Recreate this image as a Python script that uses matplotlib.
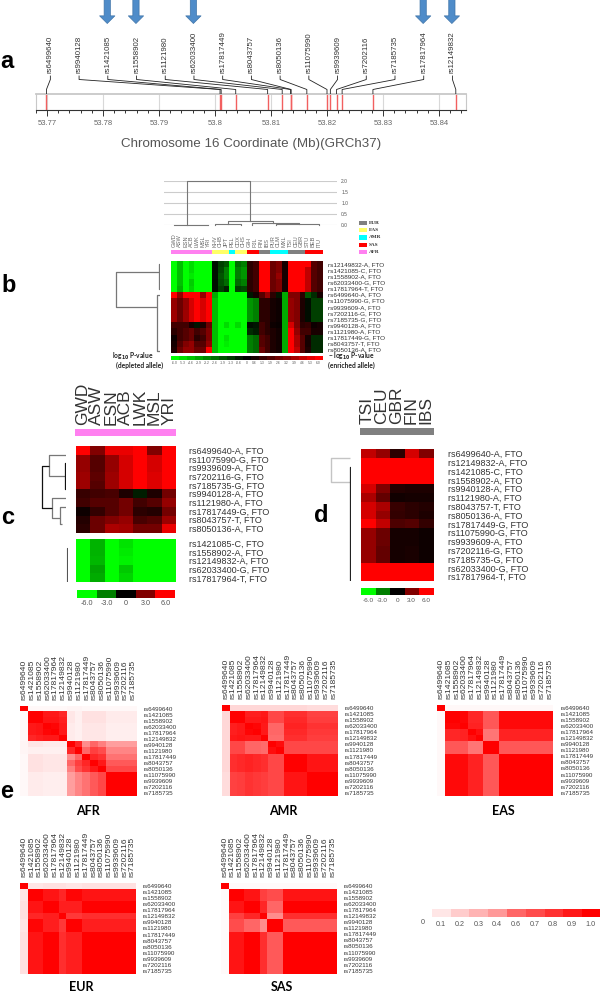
import numpy as np
import matplotlib
matplotlib.use('Agg')
import matplotlib.pyplot as plt
from matplotlib.colors import LinearSegmentedColormap, ListedColormap

plt.rcParams['font.family'] = ['Liberation Sans', 'DejaVu Sans']
plt.rcParams['mathtext.default'] = 'regular'

W, H = 600, 993

# panel a
snp_names = ['rs6499640', 'rs9940128', 'rs1421085', 'rs1558902', 'rs1121980',
             'rs62033400', 'rs17817449', 'rs8043757', 'rs8050136', 'rs11075990',
             'rs9939609', 'rs7202116', 'rs7185735', 'rs17817964', 'rs12149832']
snp_pos = [53.7699, 53.8009, 53.8011, 53.8037, 53.8094, 53.8120, 53.8135, 53.8136,
           53.8164, 53.8200, 53.8206, 53.8217, 53.8227, 53.8282, 53.8430]
arrow_snps = ['rs1421085', 'rs1558902', 'rs62033400', 'rs17817964', 'rs12149832']

# panel b
b_cols = ['GWD', 'ASW', 'ESN', 'ACB', 'LWK', 'MSL', 'YRI', 'KHV', 'CHB', 'JPT', 'PEL', 'CDX', 'CHS',
          'GIH', 'PJL', 'FIN', 'IBS', 'PUR', 'CLM', 'MXL', 'TSI', 'CEU', 'GBR', 'STU', 'BEB', 'ITU']
b_regions = [4, 4, 4, 4, 4, 4, 4, 1, 1, 1, 2, 1, 1, 3, 3, 0, 0, 2, 2, 2, 0, 0, 0, 3, 3, 3]
region_names = ['EUR', 'EAS', 'AMR', 'SAS', 'AFR']
region_colors = ['#808080', '#ffff66', '#00ffff', '#ff0000', '#ff80f0']
b_rows = ['rs12149832-A, FTO', 'rs1421085-C, FTO', 'rs1558902-A, FTO', 'rs62033400-G, FTO',
          'rs17817964-T, FTO', 'rs6499640-A, FTO', 'rs11075990-G, FTO', 'rs9939609-A, FTO',
          'rs7202116-G, FTO', 'rs7185735-G, FTO', 'rs9940128-A, FTO', 'rs1121980-A, FTO',
          'rs17817449-G, FTO', 'rs8043757-T, FTO', 'rs8050136-A, FTO']
b_values = [
    [-6, -4.5, -6, -5.2, -6, -6, -6, -.4, -1.5, -2, -6, -2.5, -3, 1, 1.5, 6, 6, 2.5, 3, .5, 6, 6, 6, 6, 2, 1.5],
    [-6, -4.5, -6, -5.2, -6, -6, -6, -.4, -1.7, -3, -6, -3, -3.5, 1, 1.5, 6, 6, 2.5, 3, .5, 6, 6, 6, 4.5, 2, 1.5],
    [-6, -4.5, -6, -5.5, -6, -6, -6, -.4, -2, -3, -6, -3, -3.5, 1, 1.5, 6, 6, 2.5, 3.5, .5, 6, 6, 6, 4.5, 2, 1.5],
    [-6, -4.5, -6, -4.8, -6, -6, -6, -.3, -1.8, -2.5, -6, -2.5, -3, 1, 1.5, 6, 6, 2.5, 3, .5, 6, 6, 6, 4.5, 2, 1.5],
    [-6, -4.2, -6, -5, -6, -6, -6, -.3, -1.5, -.8, -6, -1.5, -1.7, 1, 1.5, 6, 6, 2.5, 3, .5, 6, 6, 6, 4.5, 2, 1.5],
    [6, 3.5, 6, 6, 6, 3.5, 6, -4, -6, -6, -6, -6, -6, -.5, .5, 2, 3.5, 1, -.5, -4, 3, 3, 1, -2, -1, .5],
    [3.5, 2.5, 3.5, 5, 6, 5, 6, -4.5, -6, -6, -6, -6, -6, -3.5, -3, 1, 1, .5, .3, -4, 3.5, 3, .7, -.3, -1.5, -1.5],
    [3.5, 2.5, 3.5, 5, 6, 5, 6, -4.5, -6, -6, -6, -6, -6, -3.5, -3, 1, 1, .5, .3, -4, 3.5, 3, .7, -.3, -1.5, -1.5],
    [3.7, 2.5, 3.7, 5, 6, 5.2, 6, -4.5, -6, -6, -6, -6, -6, -3.5, -3, 1, 1, .5, .3, -4, 3.5, 3, .7, -.3, -1.5, -1.5],
    [3.7, 2.5, 3.7, 5, 6, 5.2, 6, -4.5, -6, -6, -6, -6, -6, -3.5, -3, 1, 1, .5, .3, -4, 3.5, 3, .7, -.3, -1.5, -1.5],
    [1.5, 1.5, 1.5, .5, -.5, .7, 2.5, -4.5, -6, -5.2, -6, -5.2, -6, -.3, -.5, 1.5, 1, .3, .2, -4, 5, 3, 1, 1.2, .3, .5],
    [1, 1.5, 2, 2.5, 1.5, 2, 3, -4.5, -6, -6, -6, -6, -6, -1, -.7, 1.5, 1, .7, .4, -4, 6, 3.5, 1.5, 1.5, .6, .6],
    [.3, 1.5, 2, 2.5, 1, 1.5, 3, -4.5, -6, -5.3, -6, -6, -6, -3, -2.5, 2, 1.5, .7, .4, -4, 6, 4, 2, .5, -1, -1],
    [.5, 2, 3, 3.5, 2, 2, 3.5, -4.5, -6, -5.6, -6, -6, -6, -3, -2.5, 2, 1.5, .7, .4, -4, 6, 4, 2, .5, -1, -1],
    [.7, 2.5, 3.5, 3.5, 2.5, 2.5, 6, -4.5, -6, -6, -6, -6, -6, -3, -2.5, 2.5, 1.5, .7, .4, -4, 6, 4.5, 2, .7, -1, -1],
]
b_scale = [-6.0, -5.3, -4.6, -3.9, -3.2, -2.6, -1.9, -1.3, -0.6, 0, 0.6, 1.3, 1.9, 2.6, 3.2, 3.9, 4.6, 5.3, 6.0]
b_heights = [0.0, 0.5, 1.0, 1.5, 2.0]

# panel c
c_cols = ['GWD', 'ASW', 'ESN', 'ACB', 'LWK', 'MSL', 'YRI']
c_rows_top = ['rs6499640-A, FTO', 'rs11075990-G, FTO', 'rs9939609-A, FTO', 'rs7202116-G, FTO',
              'rs7185735-G, FTO', 'rs9940128-A, FTO', 'rs1121980-A, FTO', 'rs17817449-G, FTO',
              'rs8043757-T, FTO', 'rs8050136-A, FTO']
c_values_top = [
    [6, 3, 5.5, 5.5, 6, 3, 6],
    [3.5, 2, 3.5, 5, 6, 5, 6],
    [3.5, 2, 3.5, 5, 6, 5, 6],
    [3.7, 2.2, 3.7, 5, 6, 5.2, 6],
    [3.7, 2, 3.7, 5, 6, 5.2, 6],
    [1.3, 1.5, 1.7, .7, -.7, .7, 2.7],
    [1.5, 2, 2, 2.7, 1.5, 2, 3.5],
    [.3, 1.2, 2, 2.7, 1, .8, 2.7],
    [.8, 2.5, 3, 3.5, 1.7, 2, 3.7],
    [1, 2.5, 4, 3.8, 2.7, 2.7, 5.5],
]
c_rows_bottom = ['rs1421085-C, FTO', 'rs1558902-A, FTO', 'rs12149832-A, FTO', 'rs62033400-G, FTO',
                 'rs17817964-T, FTO']
c_values_bottom = [
    [-6, -4.2, -6, -5.3, -6, -6, -6],
    [-6, -4.2, -6, -5.5, -6, -6, -6],
    [-6, -4.3, -6, -5.7, -6, -6, -6],
    [-6, -3.8, -6, -4.7, -6, -6, -6],
    [-6, -4, -6, -5, -6, -6, -6],
]
scale_values = [-6.0, -3.0, 0, 3.0, 6.0]

# panel d
d_cols = ['TSI', 'CEU', 'GBR', 'FIN', 'IBS']
d_rows = ['rs6499640-A, FTO', 'rs12149832-A, FTO', 'rs1421085-C, FTO', 'rs1558902-A, FTO',
          'rs9940128-A, FTO', 'rs1121980-A, FTO', 'rs8043757-T, FTO', 'rs8050136-A, FTO',
          'rs17817449-G, FTO', 'rs11075990-G, FTO', 'rs9939609-A, FTO', 'rs7202116-G, FTO',
          'rs7185735-G, FTO', 'rs62033400-G, FTO', 'rs17817964-T, FTO']
d_values = [
    [4.5, 3.5, 1, 5, 3],
    [6, 6, 6, 6, 6],
    [6, 6, 6, 6, 6],
    [6, 6, 6, 6, 6],
    [5, 3, .8, .7, .7],
    [4, 2.3, .4, .5, .5],
    [5, 4, 1.3, 1, .8],
    [5, 3.5, 1.2, 1, .7],
    [6, 4.5, 1.8, 2, 1.2],
    [3.5, 2.5, .5, .5, .3],
    [3.5, 2.5, .5, .5, .3],
    [3.5, 2.3, .5, .6, .3],
    [3.5, 2.3, .5, .6, .3],
    [6, 6, 6, 6, 6],
    [6, 6, 6, 6, 6],
]

# panel e, r2 in percent
ld_names = ['rs6499640', 'rs1421085', 'rs1558902', 'rs62033400', 'rs17817964', 'rs12149832', 'rs9940128',
            'rs1121980', 'rs17817449', 'rs8043757', 'rs8050136', 'rs11075990', 'rs9939609', 'rs7202116',
            'rs7185735']
ld_afr = [
    [100, 3, 3, 3, 3, 3, 4, 4, 3, 3, 3, 3, 3, 3, 3],
    [3, 100, 100, 90, 90, 85, 10, 6, 12, 12, 12, 8, 8, 8, 8],
    [3, 100, 100, 92, 92, 88, 10, 6, 12, 12, 12, 8, 8, 8, 8],
    [3, 90, 92, 100, 98, 90, 8, 6, 10, 10, 10, 7, 7, 7, 7],
    [3, 90, 92, 98, 100, 90, 8, 6, 10, 10, 10, 7, 7, 7, 7],
    [3, 85, 88, 90, 90, 100, 8, 6, 10, 10, 10, 7, 7, 7, 7],
    [4, 10, 10, 8, 8, 8, 100, 85, 45, 60, 50, 38, 38, 38, 38],
    [4, 6, 6, 6, 6, 6, 85, 100, 60, 75, 70, 48, 48, 48, 48],
    [3, 12, 12, 10, 10, 10, 45, 60, 100, 85, 80, 55, 55, 55, 55],
    [3, 12, 12, 10, 10, 10, 60, 75, 85, 100, 90, 65, 65, 65, 65],
    [3, 12, 12, 10, 10, 10, 50, 70, 80, 90, 100, 72, 72, 72, 72],
    [3, 8, 8, 7, 7, 7, 38, 48, 55, 65, 72, 100, 100, 100, 100],
    [3, 8, 8, 7, 7, 7, 38, 48, 55, 65, 72, 100, 100, 100, 100],
    [3, 8, 8, 7, 7, 7, 38, 48, 55, 65, 72, 100, 100, 100, 100],
    [3, 8, 8, 7, 7, 7, 38, 48, 55, 65, 72, 100, 100, 100, 100],
]
ld_amr = [
    [100, 16, 16, 16, 16, 16, 16, 16, 16, 16, 16, 14, 14, 14, 14],
    [16, 100, 100, 88, 88, 90, 72, 72, 82, 82, 82, 74, 74, 74, 74],
    [16, 100, 100, 90, 90, 92, 72, 72, 84, 84, 84, 76, 76, 76, 76],
    [16, 88, 90, 100, 98, 90, 60, 60, 86, 86, 86, 80, 80, 80, 80],
    [16, 88, 90, 98, 100, 90, 60, 60, 84, 84, 84, 78, 78, 78, 78],
    [16, 90, 92, 90, 90, 100, 58, 58, 82, 82, 82, 76, 76, 76, 76],
    [16, 72, 72, 60, 60, 58, 100, 95, 72, 72, 72, 72, 72, 72, 72],
    [16, 72, 72, 60, 60, 58, 95, 100, 72, 72, 72, 72, 72, 72, 72],
    [16, 82, 84, 86, 84, 82, 72, 72, 100, 100, 100, 92, 92, 92, 92],
    [16, 82, 84, 86, 84, 82, 72, 72, 100, 100, 100, 92, 92, 92, 92],
    [16, 82, 84, 86, 84, 82, 72, 72, 100, 100, 100, 92, 92, 92, 92],
    [14, 74, 76, 80, 78, 76, 72, 72, 92, 92, 92, 100, 100, 100, 100],
    [14, 74, 76, 80, 78, 76, 72, 72, 92, 92, 92, 100, 100, 100, 100],
    [14, 74, 76, 80, 78, 76, 72, 72, 92, 92, 92, 100, 100, 100, 100],
    [14, 74, 76, 80, 78, 76, 72, 72, 92, 92, 92, 100, 100, 100, 100],
]
ld_eas = [
    [100, 3, 3, 3, 3, 3, 3, 3, 3, 3, 3, 3, 3, 3, 3],
    [3, 100, 100, 98, 85, 85, 66, 66, 96, 96, 96, 96, 96, 96, 96],
    [3, 100, 100, 98, 85, 85, 66, 66, 96, 96, 96, 96, 96, 96, 96],
    [3, 98, 98, 100, 86, 86, 66, 66, 96, 96, 96, 96, 96, 96, 96],
    [3, 85, 85, 86, 100, 94, 54, 54, 86, 86, 86, 86, 86, 86, 86],
    [3, 85, 85, 86, 94, 100, 54, 54, 86, 86, 86, 86, 86, 86, 86],
    [3, 66, 66, 66, 54, 54, 100, 100, 66, 66, 66, 66, 66, 66, 66],
    [3, 66, 66, 66, 54, 54, 100, 100, 66, 66, 66, 66, 66, 66, 66],
    [3, 96, 96, 96, 86, 86, 66, 66, 100, 100, 100, 100, 100, 100, 100],
    [3, 96, 96, 96, 86, 86, 66, 66, 100, 100, 100, 100, 100, 100, 100],
    [3, 96, 96, 96, 86, 86, 66, 66, 100, 100, 100, 100, 100, 100, 100],
    [3, 96, 96, 96, 86, 86, 66, 66, 100, 100, 100, 100, 100, 100, 100],
    [3, 96, 96, 96, 86, 86, 66, 66, 100, 100, 100, 100, 100, 100, 100],
    [3, 96, 96, 96, 86, 86, 66, 66, 100, 100, 100, 100, 100, 100, 100],
    [3, 96, 96, 96, 86, 86, 66, 66, 100, 100, 100, 100, 100, 100, 100],
]
ld_eur = [
    [100, 10, 10, 12, 12, 12, 10, 10, 12, 12, 12, 12, 12, 12, 12],
    [10, 100, 100, 92, 92, 85, 98, 98, 92, 92, 92, 92, 92, 92, 92],
    [10, 100, 100, 92, 92, 85, 98, 98, 92, 92, 92, 92, 92, 92, 92],
    [12, 92, 92, 100, 100, 88, 88, 88, 99, 99, 99, 99, 99, 99, 99],
    [12, 92, 92, 100, 100, 88, 88, 88, 99, 99, 99, 99, 99, 99, 99],
    [12, 85, 85, 88, 88, 100, 78, 78, 82, 82, 82, 82, 82, 82, 82],
    [10, 98, 98, 88, 88, 78, 100, 100, 88, 88, 88, 88, 88, 88, 88],
    [10, 98, 98, 88, 88, 78, 100, 100, 88, 88, 88, 88, 88, 88, 88],
    [12, 92, 92, 99, 99, 82, 88, 88, 100, 100, 100, 100, 100, 100, 100],
    [12, 92, 92, 99, 99, 82, 88, 88, 100, 100, 100, 100, 100, 100, 100],
    [12, 92, 92, 99, 99, 82, 88, 88, 100, 100, 100, 100, 100, 100, 100],
    [12, 92, 92, 99, 99, 82, 88, 88, 100, 100, 100, 100, 100, 100, 100],
    [12, 92, 92, 99, 99, 82, 88, 88, 100, 100, 100, 100, 100, 100, 100],
    [12, 92, 92, 99, 99, 82, 88, 88, 100, 100, 100, 100, 100, 100, 100],
    [12, 92, 92, 99, 99, 82, 88, 88, 100, 100, 100, 100, 100, 100, 100],
]
ld_sas = [
    [100, 2, 2, 2, 2, 2, 2, 2, 2, 2, 2, 2, 2, 2, 2],
    [2, 100, 100, 92, 92, 75, 70, 70, 92, 92, 92, 92, 92, 92, 92],
    [2, 100, 100, 92, 92, 75, 70, 70, 92, 92, 92, 92, 92, 92, 92],
    [2, 92, 92, 100, 100, 85, 60, 60, 100, 100, 100, 100, 100, 100, 100],
    [2, 92, 92, 100, 100, 85, 60, 60, 100, 100, 100, 100, 100, 100, 100],
    [2, 75, 75, 85, 85, 100, 45, 45, 82, 82, 82, 82, 82, 82, 82],
    [2, 70, 70, 60, 60, 45, 100, 100, 65, 65, 65, 65, 65, 65, 65],
    [2, 70, 70, 60, 60, 45, 100, 100, 65, 65, 65, 65, 65, 65, 65],
    [2, 92, 92, 100, 100, 82, 65, 65, 100, 100, 100, 100, 100, 100, 100],
    [2, 92, 92, 100, 100, 82, 65, 65, 100, 100, 100, 100, 100, 100, 100],
    [2, 92, 92, 100, 100, 82, 65, 65, 100, 100, 100, 100, 100, 100, 100],
    [2, 92, 92, 100, 100, 82, 65, 65, 100, 100, 100, 100, 100, 100, 100],
    [2, 92, 92, 100, 100, 82, 65, 65, 100, 100, 100, 100, 100, 100, 100],
    [2, 92, 92, 100, 100, 82, 65, 65, 100, 100, 100, 100, 100, 100, 100],
    [2, 92, 92, 100, 100, 82, 65, 65, 100, 100, 100, 100, 100, 100, 100],
]
ld_scale = [0.1, 0.2, 0.3, 0.4, 0.6, 0.7, 0.8, 0.9, 1.0]

# dendrogram links: (a, b, height at a, height at b, joining height)
b_top_links = [(2.8, 13.67, .02, .19, 2.0), (9.77, 17.5, .05, .1, .19), (0.5, 6.4, 0, 0, .02),
               (7.5, 12, 0, 0, .05), (14, 22, .02, .05, .1), (18, 25.5, 0, 0, .05)]
b_side_links = [(1.25, 7, 1, 3, 44), (0, 4, 0, 0, 1), (5, 14.3, 0, 0, 3)]
c_side_links = [(0.5, 3, 0, 1, 17), (5.5, 7.8, 0, 6, 14), (6.5, 8.5, 0, 4, 6)]
c_side_dark = [(1.8, 6.7, 17, 14, 24), (1.5, 4.5, 0, 0, 1)]
c_bottom_links = [(0.5, 4.5, 0, 0, 1)]
d_side_links = [(0.5, 3.2, 1, 1, 20)]
d_side_dark = [(1.5, 14.5, 0, 0, 1)]

heat_cmap = LinearSegmentedColormap.from_list('heat', ['#00ff00', '#000000', '#ff0000'])
ld_cmap = LinearSegmentedColormap.from_list('ld', ['#ffffff', '#ff0000'])

fig = plt.figure(figsize=(W / 100, H / 100), dpi=100, facecolor='white')


def px_axes(x0, y0, x1, y1):
    # axes from picture pixels, y counted from the top
    ax = fig.add_axes([x0 / W, 1 - y1 / H, (x1 - x0) / W, (y1 - y0) / H])
    return ax


def heat(rect, values, cmap, vmin, vmax, xlabels=None, ylabels=None, xsize=6, ysize=6.5, xpad=3, ypad=3,
         xcolor='#333333', ycolor='#333333'):
    ax = px_axes(*rect)
    ax.imshow(values, cmap=cmap, vmin=vmin, vmax=vmax, aspect='auto', interpolation='nearest')
    for s in ax.spines.values():
        s.set_visible(False)
    ax.set_xticks([])
    ax.set_yticks([])
    if xlabels is not None:
        ax.xaxis.tick_top()
        ax.set_xticks(range(len(xlabels)))
        ax.set_xticklabels(xlabels, rotation=90, fontsize=xsize, color=xcolor)
        ax.tick_params(axis='x', length=0, pad=xpad)
    if ylabels is not None:
        ax.yaxis.tick_right()
        ax.set_yticks(range(len(ylabels)))
        ax.set_yticklabels(ylabels, fontsize=ysize, color=ycolor)
        ax.tick_params(axis='y', length=0, pad=ypad)
    return ax


def scale_bar(rect, values, cmap, vmin, vmax, size=5, pad=2, labels=None, color='#555555'):
    ax = px_axes(*rect)
    ax.imshow([values], cmap=cmap, vmin=vmin, vmax=vmax, aspect='auto', interpolation='nearest')
    ax.set_yticks([])
    ax.set_xticks(range(len(values)))
    ax.set_xticklabels(values if labels is None else labels, fontsize=size, color=color)
    ax.tick_params(axis='x', length=0, pad=pad)
    for s in ax.spines.values():
        s.set_visible(False)
    return ax


def side_dendro(rect, nrows, hmax, links, color='#666666', lw=1):
    # rows line up with the heatmap beside it, root on the left
    ax = px_axes(*rect)
    ax.set_xlim(hmax, 0)
    ax.set_ylim(nrows - 0.5, -0.5)
    ax.axis('off')
    for a, b, ha, hb, h in links:
        ax.plot([ha, h, h, hb], [a, a, b, b], color=color, lw=lw, solid_capstyle='butt')
    return ax


# a: region track with the SNP marks
a_left = 53.77 + (35.7 - 47) / 5600
a_right = 53.77 + (465.7 - 47) / 5600
box = px_axes(35.7, 93.7, 465.7, 110)
box.set_xlim(a_left, a_right)
box.set_ylim(0, 1)
box.set_yticks([])
major = np.arange(53.77, 53.845, 0.01)
box.set_xticks(major)
box.set_xticklabels(['53.77', '53.78', '53.79', '53.8', '53.81', '53.82', '53.83', '53.84'],
                    fontsize=5.5, color='#666666')
box.set_xticks(np.arange(53.768, 53.845, 0.002), minor=True)
box.tick_params(axis='x', which='major', length=4, width=0.7, pad=3, color='#333333')
box.tick_params(axis='x', which='minor', length=2, width=0.7, color='#333333')
box.vlines(major, 0, 1, color='#d8d8d8', lw=0.8)
box.vlines(snp_pos, 0, 1, color='#f26060', lw=1.0)
for side in ['top', 'left', 'right']:
    box.spines[side].set_color('#c8c8c8')
box.spines['top'].set_linewidth(1.3)
box.spines['bottom'].set_color('#333333')
box.set_xlabel('Chromosome 16 Coordinate (Mb)(GRCh37)', fontsize=9.6, color='#555555', labelpad=8)

# labels and leaders above the track
lead = px_axes(35.7, 0, 465.7, 93.7)
lead.set_xlim(a_left, a_right)
lead.set_ylim(93.7, 0)
lead.axis('off')
slots = np.linspace(53.7706, 53.8424, len(snp_names))
for name, p, s in zip(snp_names, snp_pos, slots):
    lead.plot([s, s, p, p], [76, 79.5, 89.5, 93.7], color='#222222', lw=0.6)
    lead.text(s, 73, name, rotation=90, ha='center', va='bottom', fontsize=5.7, color='#333333')
    if name in arrow_snps:
        lead.annotate('', xy=(s - 0.0001, 23.5), xytext=(s - 0.0001, -1),
                      arrowprops=dict(arrowstyle='simple,head_width=1.1,head_length=0.55,tail_width=0.45',
                                      mutation_scale=10, fc='#4f8cc9', ec='#3f74a8', lw=0.5,
                                      shrinkA=0, shrinkB=0))

# b: cluster heights above the heatmap
b_x0, b_x1 = 171, 322
col_w = (b_x1 - b_x0) / len(b_cols)
top = px_axes(164, 180.7, 337, 225)
top.set_xlim((164 - b_x0) / col_w, (337 - b_x0) / col_w)
top.set_ylim(0, 2)
top.set_yticks(b_heights)
top.set_yticklabels([str(v) for v in b_heights], fontsize=3.5, color='#555555')
top.yaxis.tick_right()
top.tick_params(axis='y', length=0, pad=3)
top.set_xticks([])
top.grid(True, axis='y', color='#cccccc', lw=0.8)
top.set_axisbelow(True)
for s in top.spines.values():
    s.set_visible(False)
for a, b, ha, hb, h in b_top_links:
    top.plot([a, a, b, b], [ha, h, h, hb], color='#777777', lw=0.8, clip_on=False)

b_heat = heat((b_x0, 261, b_x1, 352.7), b_values, heat_cmap, -6, 6, ylabels=b_rows, ysize=4.6, ypad=4.1)

pop = heat((b_x0, 250, b_x1, 254.3), [b_regions], ListedColormap(region_colors), 0, 4, xlabels=b_cols,
           xsize=4.1, xpad=2.5, xcolor='#666666')

# legend of the five regions
leg = px_axes(358.7, 219, 395, 256)
leg.set_xlim(0, 1)
leg.set_ylim(len(region_names) - 0.5, -0.5)
leg.axis('off')
leg.barh(range(len(region_names)), [0.22] * 5, height=0.55, color=region_colors)
for i, name in enumerate(region_names):
    leg.text(0.28, i, name, fontsize=3.8, fontweight='bold', family='Liberation Serif', va='center',
             color='#333333')

scale_bar((b_x0, 356, b_x1, 360), b_scale, heat_cmap, -6, 6, size=2.4, pad=1)
side_dendro((112, 261, 160, 352.7), len(b_rows), 48, b_side_links, color='#777777', lw=0.9)

# c: two heat blocks split by cluster
c_ax = heat((75.7, 446, 175.7, 532.7), c_values_top, heat_cmap, -6, 6, ylabels=c_rows_top, ysize=6.5, ypad=9.4)
heat((75.7, 539.3, 175.7, 582.3), c_values_bottom, heat_cmap, -6, 6, ylabels=c_rows_bottom, ysize=6.5, ypad=9.4)
heat((75, 429.3, 176, 436), [[4] * len(c_cols)], ListedColormap(region_colors), 0, 4, xlabels=c_cols,
     xsize=12.5, xpad=3)
scale_bar((77, 590, 175, 597.7), scale_values, heat_cmap, -6, 6, size=5.2, pad=2)
side_dendro((40, 446, 66, 532.7), len(c_rows_top), 26, c_side_links, color='#777777', lw=0.9)
side_dendro((40, 446, 66, 532.7), len(c_rows_top), 26, c_side_dark, color='#111111', lw=0.9)
side_dendro((40, 539.3, 68, 582.3), len(c_rows_bottom), 28, c_bottom_links, color='#555555', lw=0.8)

# d
heat((361, 449.3, 433.3, 581), d_values, heat_cmap, -6, 6, ylabels=d_rows, ysize=6.5, ypad=10.4)
heat((360, 427.7, 433.3, 435), [[0] * len(d_cols)], ListedColormap(region_colors), 0, 4, xlabels=d_cols,
     xsize=12.5, xpad=3)
scale_bar((361, 588, 433.3, 595.3), scale_values, heat_cmap, -6, 6, size=4.6, pad=2)
side_dendro((330, 449.3, 351, 581), len(d_rows), 21, d_side_links, color='#c4c4c4', lw=1)
side_dendro((330, 449.3, 351, 581), len(d_rows), 21, d_side_dark, color='#222222', lw=0.9)

# e: LD matrices, r2 as percent
ld_panels = [
    ('AFR', ld_afr, (20.3, 705.7, 137, 796)),
    ('AMR', ld_amr, (221.7, 705, 337.7, 796)),
    ('EAS', ld_eas, (437.3, 705, 553.3, 795.7)),
    ('EUR', ld_eur, (20, 883, 136, 974)),
    ('SAS', ld_sas, (220.7, 883, 336.7, 973.7)),
]
for title, ld, rect in ld_panels:
    heat(rect, ld, ld_cmap, 0, 100, xlabels=ld_names, ylabels=ld_names, xsize=6.1, ysize=4.5, xpad=4, ypad=5)

ld_bar = scale_bar((431.7, 909, 600, 917), ld_scale, ld_cmap, 0, 1.0, size=5.2, pad=3)
ld_bar.text(-1, -0.75, '0', fontsize=5.2, color='#555555', ha='center', va='center', clip_on=False,
            transform=ld_bar.get_xaxis_transform())

# free text in picture pixels
page = fig.add_axes([0, 0, 1, 1], facecolor='none')
page.set_xlim(0, W)
page.set_ylim(H, 0)
page.axis('off')
letters = [('a', 0, 62), ('b', 1, 285), ('c', 1, 518), ('d', 314, 516), ('e', 0, 791)]
for letter, x, y in letters:
    page.text(x, y, letter, fontsize=17, fontweight='bold', va='center', color='black')
for title, x, y in [('AFR', 88, 811), ('AMR', 283, 811), ('EAS', 503, 811), ('EUR', 81, 987), ('SAS', 282, 987)]:
    page.text(x, y, title, fontsize=9, fontweight='bold', family='Lato', ha='center', va='center', color='black')
note = dict(fontsize=4.8, fontweight='bold', family='Lato', va='center', color='#222222')
page.text(153, 356.5, r'log$_{\mathbf{10}}$ P-value', ha='right', **note)
page.text(163, 365.5, '(depleted allele)', ha='right', **note)
page.text(328, 356.5, r'$-$ log$_{\mathbf{10}}$ P-value', ha='left', **note)
page.text(328, 365.5, '(enriched allele)', ha='left', **note)

fig.savefig('out.png', dpi=100)
